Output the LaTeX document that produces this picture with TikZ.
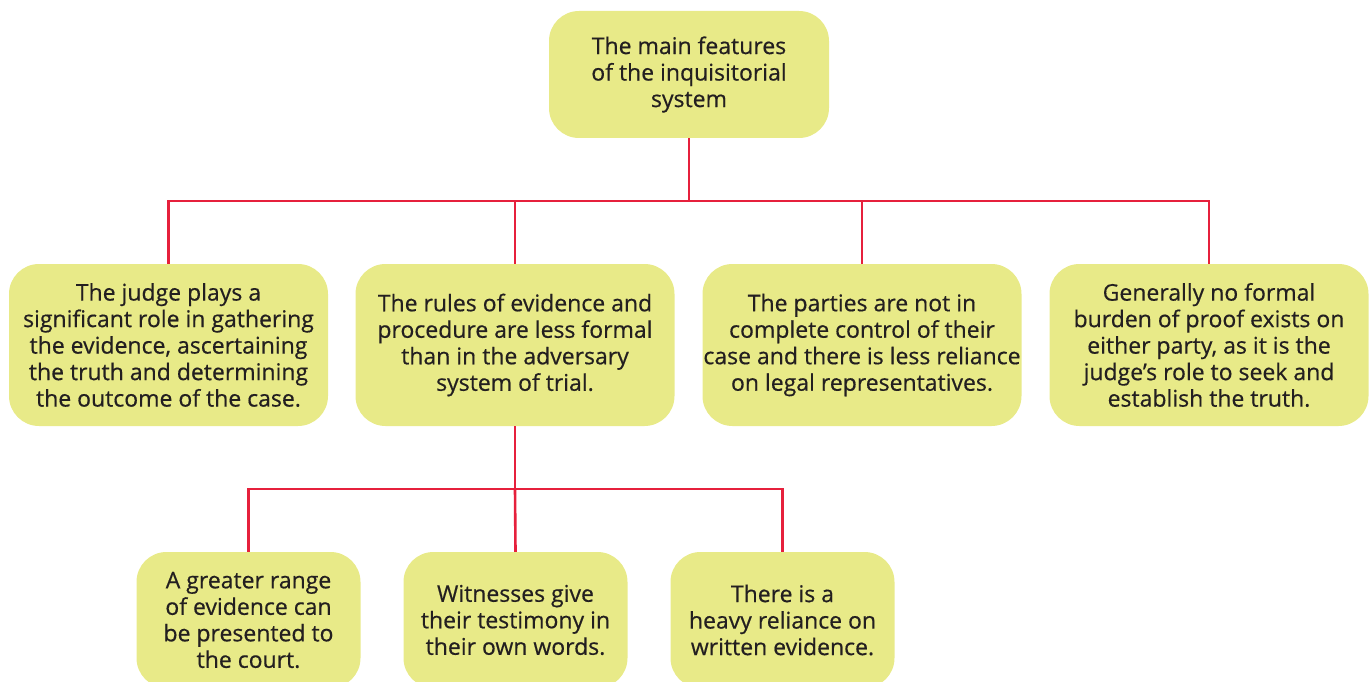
\documentclass[tikz,border=0pt]{standalone}
\usepackage{fontspec}
\setmainfont{Open Sans}[FakeBold=0.5]
\definecolor{boxfill}{HTML}{E8EA88}
\definecolor{linered}{HTML}{E6203C}
\definecolor{txt}{HTML}{231F20}
\begin{document}
\begin{tikzpicture}[x=1pt,y=-1pt,
  box/.style={draw=none,fill=boxfill,rounded corners=30pt,align=center,
    text=txt,font=\fontsize{23}{26.5}\selectfont,inner sep=0pt},
  conn/.style={draw=linered,line width=2.6pt}]
\useasboundingbox (0,0) rectangle (1369,682);
\clip (0,0) rectangle (1369,682);
\node[box,minimum width=280pt,minimum height=127pt] (top) at (689,74.5)
  {The main features\\of the inquisitorial\\system};
\node[box,minimum width=319pt,minimum height=162pt] (b1) at (168.5,345)
  {The judge plays a\\significant role in gathering\\the evidence, ascertaining\\the truth and determining\\the outcome of the case.};
\node[box,minimum width=319pt,minimum height=162pt] (b2) at (515,345)
  {The rules of evidence and\\procedure are less formal\\than in the adversary\\system of trial.};
\node[box,minimum width=319pt,minimum height=162pt] (b3) at (862,345)
  {The parties are not in\\complete control of their\\case and there is less reliance\\on legal representatives.};
\node[box,minimum width=319pt,minimum height=162pt] (b4) at (1209,345)
  {Generally no formal\\burden of proof exists on\\either party, as it is the\\judge’s role to seek and\\establish the truth.};
\node[box,minimum width=224pt,minimum height=136pt] (c1) at (248.5,620)
  {A greater range\\of evidence can\\be presented to\\the court.};
\node[box,minimum width=224pt,minimum height=136pt] (c2) at (515.5,620)
  {Witnesses give\\their testimony in\\their own words.};
\node[box,minimum width=224pt,minimum height=136pt] (c3) at (782.5,620)
  {There is a\\heavy reliance on\\written evidence.};
\coordinate (j1) at (689,201);
\coordinate (j2) at (515,489);
\draw[conn] (top.south) -- (j1);
\draw[conn] (b1.north) |- (j1) -| (b4.north);
\draw[conn] (b2.north) -- (b2.north |- j1);
\draw[conn] (b3.north) -- (b3.north |- j1);
\draw[conn] (b2.south) -- (j2);
\draw[conn] (c1.north) |- (j2) -| (c3.north);
\draw[conn] (c2.north) -- (j2);
\end{tikzpicture}
\end{document}
